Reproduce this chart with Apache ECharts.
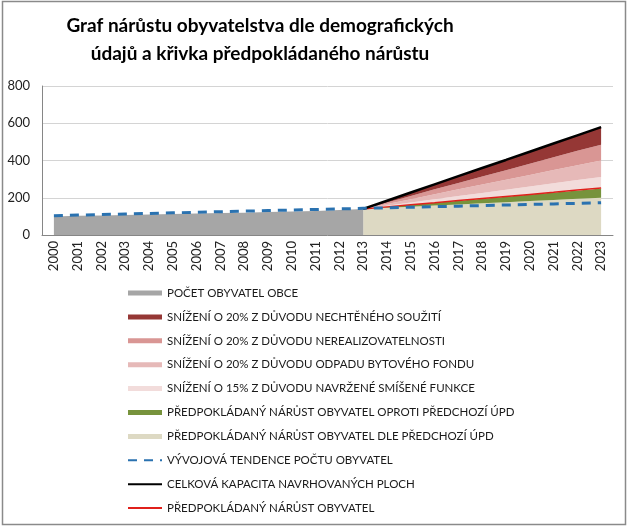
<!DOCTYPE html>
<html>
<head>
<meta charset="utf-8">
<script src="https://cdn.jsdelivr.net/npm/echarts@6/dist/echarts.min.js"></script>
<style>
    html, body { margin: 0; padding: 0; background: #fff; }
    #chart { width: 628px; height: 527px; }
</style>
</head>
<body>
<div id="chart"></div>
<script>
// roky
var years = ['2000', '2001', '2002', '2003', '2004', '2005', '2006', '2007', '2008', '2009', '2010', '2011',
    '2012', '2013', '2014', '2015', '2016', '2017', '2018', '2019', '2020', '2021', '2022', '2023'];

var n = null;
// počet obyvatel obce 2000-2013
var pocetObyvatel = [100, 103, 105, 108, 110, 113, 115, 118, 120, 123, 126, 129, 134, 140,
    n, n, n, n, n, n, n, n, n, n];
// vrstvy od 2013 (skládané)
var dlePredchoziUpd = [n, n, n, n, n, n, n, n, n, n, n, n, n,
    140, 146, 152, 158, 164, 170, 176, 182, 188, 194, 200];
var oprotiPredchoziUpd = [n, n, n, n, n, n, n, n, n, n, n, n, n,
    0, 5, 10, 15, 20, 25, 30, 35, 40, 45, 49];
var snizeni15Smisene = [n, n, n, n, n, n, n, n, n, n, n, n, n,
    0, 6, 12, 19, 25, 31, 37, 43, 50, 56, 62];
var snizeni20Odpad = [n, n, n, n, n, n, n, n, n, n, n, n, n,
    0, 9, 18, 27, 36, 45, 53, 62, 71, 80, 89];
var snizeni20Nerealiz = [n, n, n, n, n, n, n, n, n, n, n, n, n,
    0, 9, 17, 26, 34, 43, 51, 60, 68, 77, 85];
var snizeni20Souziti = [n, n, n, n, n, n, n, n, n, n, n, n, n,
    0, 9, 19, 28, 38, 47, 56, 66, 75, 85, 94];
// čáry
var tendence = [104, 107, 110, 113, 116, 119, 122, 125, 128, 131, 134, 137, 140, 143,
    146, 149, 152, 155, 158, 161, 164, 167, 170, 173];
var celkovaKapacita = [n, n, n, n, n, n, n, n, n, n, n, n, n,
    140, 184, 228, 272, 316, 360, 403, 447, 491, 535, 579];
var predpokladanyNarust = [n, n, n, n, n, n, n, n, n, n, n, n, n,
    140, 151, 162, 173, 185, 196, 207, 218, 229, 241, 252];
var yTicks = [0, 200, 400, 600, 800];

var chart = echarts.init(document.getElementById('chart'));

function area(name, data, color, stack) {
    return {
        name: name, type: 'line', data: data, stack: stack, color: color,
        symbol: 'none', lineStyle: { width: 0 },
        areaStyle: { color: color, opacity: 1 }, silent: true
    };
}
function line(name, data, color, width, type, z) {
    return {
        name: name, type: 'line', data: data, color: color, symbol: 'none', z: z,
        lineStyle: { color: color, width: width, type: type }, silent: true
    };
}

var option = {
    animation: false,
    textStyle: { fontFamily: 'Lato' },
    graphic: [
        {
            type: 'rect', shape: { x: 2.5, y: 1.5, width: 623, height: 523 },
            style: { fill: 'none', stroke: '#8a8a8a', lineWidth: 1.5 }, z: 100
        },
        {
            type: 'text', x: 260, y: 12,
            style: {
                text: 'Graf nárůstu obyvatelstva dle demografických\núdajů a křivka předpokládaného nárůstu',
                align: 'center', font: 'bold 19px Lato', lineHeight: 28, fill: '#000'
            }
        }
    ],
    grid: { left: 42, right: 15, top: 86, bottom: 292 },
    legend: {
        orient: 'vertical', left: 122, top: 282,
        itemWidth: 34, itemHeight: 5, itemGap: 11.9,
        textStyle: { fontSize: 11.5, color: '#1a1a1a', fontFamily: 'Lato' },
        data: [
            { name: 'POČET OBYVATEL OBCE', icon: 'rect' },
            { name: 'SNÍŽENÍ O 20% Z DŮVODU NECHTĚNÉHO SOUŽITÍ', icon: 'rect' },
            { name: 'SNÍŽENÍ O 20% Z DŮVODU NEREALIZOVATELNOSTI', icon: 'rect' },
            { name: 'SNÍŽENÍ O 20% Z DŮVODU ODPADU BYTOVÉHO FONDU', icon: 'rect' },
            { name: 'SNÍŽENÍ O 15% Z DŮVODU NAVRŽENÉ SMÍŠENÉ FUNKCE', icon: 'rect' },
            { name: 'PŘEDPOKLÁDANÝ NÁRŮST OBYVATEL OPROTI PŘEDCHOZÍ ÚPD', icon: 'rect' },
            { name: 'PŘEDPOKLÁDANÝ NÁRŮST OBYVATEL DLE PŘEDCHOZÍ ÚPD', icon: 'rect' },
            { name: 'VÝVOJOVÁ TENDENCE POČTU OBYVATEL', itemStyle: { opacity: 0 } },
            { name: 'CELKOVÁ KAPACITA NAVRHOVANÝCH PLOCH', itemStyle: { opacity: 0 } },
            { name: 'PŘEDPOKLÁDANÝ NÁRŮST OBYVATEL', itemStyle: { opacity: 0 } }
        ]
    },
    xAxis: {
        type: 'category', data: years, boundaryGap: true,
        axisLine: { lineStyle: { color: '#868686' } },
        axisTick: { show: false },
        axisLabel: { rotate: 90, interval: 0, color: '#222', fontSize: 13, margin: 6 }
    },
    yAxis: {
        type: 'value', min: yTicks[0], max: yTicks[yTicks.length - 1], interval: 200,
        axisLine: { show: true, lineStyle: { color: '#868686' } },
        axisTick: { show: false },
        axisLabel: { color: '#222', fontSize: 13, margin: 12 },
        splitLine: { lineStyle: { color: '#d4d4d4' } }
    },
    series: [
        area('PŘEDPOKLÁDANÝ NÁRŮST OBYVATEL DLE PŘEDCHOZÍ ÚPD', dlePredchoziUpd, '#ddd9c3', 'b'),
        area('PŘEDPOKLÁDANÝ NÁRŮST OBYVATEL OPROTI PŘEDCHOZÍ ÚPD', oprotiPredchoziUpd, '#77933c', 'b'),
        area('SNÍŽENÍ O 15% Z DŮVODU NAVRŽENÉ SMÍŠENÉ FUNKCE', snizeni15Smisene, '#f2dcdb', 'b'),
        area('SNÍŽENÍ O 20% Z DŮVODU ODPADU BYTOVÉHO FONDU', snizeni20Odpad, '#e6b9b8', 'b'),
        area('SNÍŽENÍ O 20% Z DŮVODU NEREALIZOVATELNOSTI', snizeni20Nerealiz, '#d99694', 'b'),
        area('SNÍŽENÍ O 20% Z DŮVODU NECHTĚNÉHO SOUŽITÍ', snizeni20Souziti, '#953735', 'b'),
        area('POČET OBYVATEL OBCE', pocetObyvatel, '#a6a6a6', 'a'),
        line('PŘEDPOKLÁDANÝ NÁRŮST OBYVATEL', predpokladanyNarust, '#e0201b', 1.5, 'solid', 3),
        line('CELKOVÁ KAPACITA NAVRHOVANÝCH PLOCH', celkovaKapacita, '#000000', 2.5, 'solid', 4),
        line('VÝVOJOVÁ TENDENCE POČTU OBYVATEL', tendence, '#2a72b0', 3, [9, 7], 5)
    ]
};
chart.setOption(option);
</script>
</body>
</html>
